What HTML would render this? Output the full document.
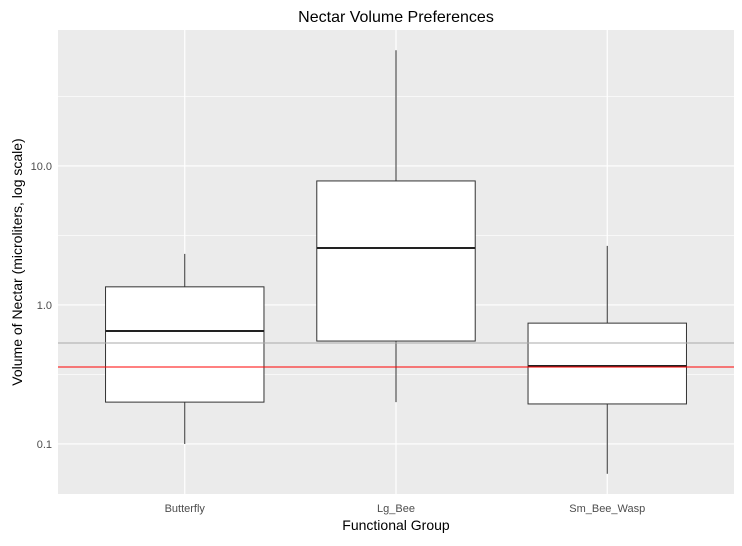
<!DOCTYPE html>
<html><head><meta charset="utf-8"><style>
body{margin:0;background:#fff;font-family:"Liberation Sans",sans-serif}
</style></head><body>
<svg id="chart" width="742" height="541" xmlns="http://www.w3.org/2000/svg">
<rect width="742" height="541" fill="#fff"/>
<rect x="58" y="30" width="676" height="464" fill="#ebebeb"/>
<g id="grid"></g><g id="boxes"></g><g id="axes"></g>
<text x="396" y="22" text-anchor="middle" font-size="16" fill="#000">Nectar Volume Preferences</text>
<text x="396" y="530" text-anchor="middle" font-size="14" fill="#000">Functional Group</text>
<text transform="translate(22,262) rotate(-90)" text-anchor="middle" font-size="14" fill="#000">Volume of Nectar (microliters, log scale)</text>
</svg>
<script>
const categories=["Butterfly","Lg_Bee","Sm_Bee_Wasp"];
const whiskerLow=[0.1,0.2,0.061];
const q1=[0.2,0.55,0.194];
const median=[0.65,2.57,0.364];
const q3=[1.35,7.8,0.74];
const whiskerHigh=[2.33,68,2.66];
const yTicks=[0.1,1,10];
const yTickLabels=["0.1","1.0","10.0"];
const refGrey=0.533, refRed=0.358;
const NS="http://www.w3.org/2000/svg";
const L=58,R=734,T=30,B=494;
const logMin=-1.36,logMax=1.978;
function y(v){return B-(Math.log10(v)-logMin)/(logMax-logMin)*(B-T);}
const unit=(R-L)/(categories.length-1+1.2);
function x(i){return L+(0.6+i)*unit;}
function mk(p,tag,a){const e=document.createElementNS(NS,tag);for(const k in a)e.setAttribute(k,a[k]);p.appendChild(e);return e;}
const grid=document.getElementById('grid'),boxes=document.getElementById('boxes'),axes=document.getElementById('axes');
yTicks.forEach((t,i)=>{
 const m=mk(grid,'line',{x1:L,x2:R,y1:y(t*Math.sqrt(10)),y2:y(t*Math.sqrt(10)),stroke:'#fff','stroke-width':0.6});
 
 const g=mk(grid,'line',{x1:L,x2:R,y1:y(t),y2:y(t),stroke:'#fff','stroke-width':1.2});
 
 const tl=mk(axes,'text',{x:52,y:y(t)+4,'text-anchor':'end','font-size':11,fill:'#4d4d4d'});
 tl.textContent=yTickLabels[i];
 
});
{const m=mk(grid,'line',{x1:L,x2:R,y1:y(yTicks[0]/Math.sqrt(10)),y2:y(yTicks[0]/Math.sqrt(10)),stroke:'#fff','stroke-width':0.6});
 }
categories.forEach((c,i)=>{
 const g=mk(grid,'line',{x1:x(i),x2:x(i),y1:T,y2:B,stroke:'#fff','stroke-width':1.2});
 
 const tl=mk(axes,'text',{x:x(i),y:512,'text-anchor':'middle','font-size':11,fill:'#4d4d4d'});
 tl.textContent=c;
 
});
const bw=0.75*unit;
categories.forEach((c,i)=>{
 const cx=x(i);
 const w1=mk(boxes,'line',{x1:cx,x2:cx,y1:y(whiskerHigh[i]),y2:y(q3[i]),stroke:'#333','stroke-width':1});
 
 const w2=mk(boxes,'line',{x1:cx,x2:cx,y1:y(q1[i]),y2:y(whiskerLow[i]),stroke:'#333','stroke-width':1});
 
 const b=mk(boxes,'rect',{x:cx-bw/2,y:y(q3[i]),width:bw,height:y(q1[i])-y(q3[i]),fill:'#fff',stroke:'#333','stroke-width':1});
 
 const md=mk(boxes,'line',{x1:cx-bw/2,x2:cx+bw/2,y1:y(median[i]),y2:y(median[i]),stroke:'#222','stroke-width':2});
 
});
const hg=mk(boxes,'line',{x1:L,x2:R,y1:y(refGrey),y2:y(refGrey),stroke:'#aaa','stroke-width':1});

const hr=mk(boxes,'line',{x1:L,x2:R,y1:y(refRed),y2:y(refRed),stroke:'#ff0000','stroke-width':1});

</script>
</body></html>
